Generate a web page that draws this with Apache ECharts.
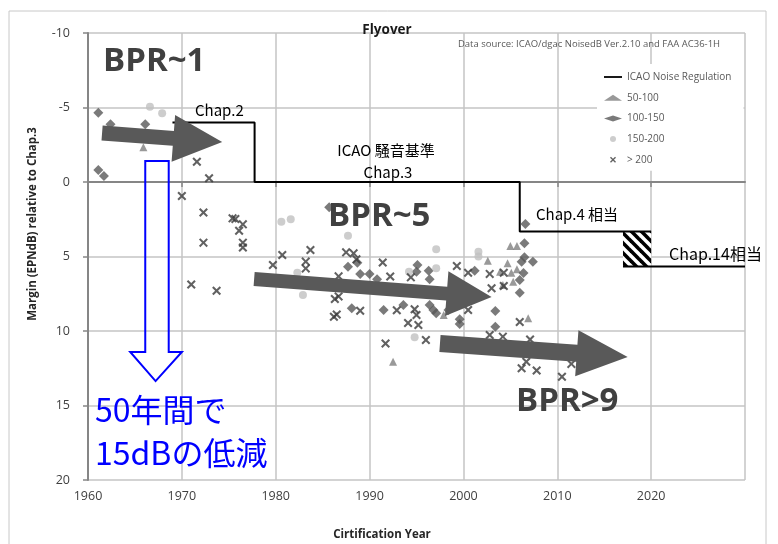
<!DOCTYPE html>
<html><head><meta charset="utf-8">
<script src="https://cdn.jsdelivr.net/npm/echarts@6/dist/echarts.min.js"></script>
<style>html,body{margin:0;padding:0;background:#fff}#c{width:778px;height:544px}</style>
</head><body><div id="c"></div>
<script>
// ---------- DATA ----------
const xTickLabels = ['1960','1970','1980','1990','2000','2010','2020'];
const yTickLabels = ['-10','-5','0','5','10','15','20'];
const legendNames = ['ICAO Noise Regulation','50-100','100-150','150-200','> 200'];

// ICAO regulation step line (Chap.2 -> Chap.3 -> Chap.4)
const regYears = [1969, 1977.75, 1977.75, 2006, 2006, 2020];
const regVals  = [-4, -4, 0, 0, 3.33, 3.33];
// Chap.14 equivalent
const chap14Years = [2017, 2030];
const chap14Vals  = [5.67, 5.67];
// transition band (hatched)
const bandYears = [2017, 2020];
const bandVals  = [3.33, 5.67];

// 50-100 (triangles)
const triYears = [1965.9, 1992.5, 1997.9, 2005.0, 2005.7, 2002.6, 2004.7, 2005.7, 2005.1, 2003.9, 2005.3, 2004.2, 2006.9];
const triVals  = [-2.33, 12.06, 8.93, 4.30, 4.30, 5.28, 5.46, 5.86, 6.09, 6.02, 6.69, 6.91, 9.15];

// 100-150 (diamonds)
const diaYears = [1961.1, 1962.4, 1966.1, 1961.1, 1961.7, 1985.7, 1987.7, 1988.7, 1989.0, 1990.0, 1990.8, 1988.1, 1991.5, 1993.6,
  1995.1, 1995.0, 1996.3, 1996.4, 1996.4, 1996.8, 1997.1, 1998.4, 1999.6, 1999.6, 2001.2, 2003.4, 2003.4,
  2006.6, 2006.5, 2006.5, 2007.4, 2006.2, 2006.4, 2006.0, 2006.0];
const diaVals  = [-4.65, -3.87, -3.87, -0.81, -0.40, 1.70, 5.68, 5.42, 6.17, 6.17, 6.53, 8.48, 8.59, 8.26,
  5.57, 6.02, 5.95, 6.53, 8.26, 8.59, 8.81, 8.59, 9.21, 9.53, 5.95, 8.66, 9.71,
  2.82, 4.11, 5.05, 5.35, 5.35, 6.11, 6.58, 7.43];

// 150-200 (circles)
const cirYears = [1966.6, 1967.9, 1980.6, 1981.6, 1982.9, 1982.3, 1987.7, 1997.1, 1997.1, 1994.2, 1994.8, 2001.6, 2001.6];
const cirVals  = [-5.05, -4.61, 2.66, 2.50, 7.58, 6.09, 3.60, 4.52, 5.79, 6.02, 10.42, 4.68, 5.00];

// > 200 (crosses)
const crsYears = [1971.6, 1972.9, 1970.0, 1972.3, 1972.3, 1975.4, 1975.7, 1976.5, 1976.1, 1976.5, 1976.5, 1971.0, 1973.7,
  1979.7, 1980.7, 1983.7, 1983.2, 1983.2, 1987.5, 1988.3, 1988.6, 1986.7, 1986.3, 1986.7, 1986.2, 1986.5, 1989.0,
  1991.4, 1992.2, 1994.4, 1992.9, 1994.8, 1995.0, 1994.1, 1995.2, 1991.7, 1996.0,
  1999.3, 2000.5, 2002.8, 2004.3, 2004.3, 2003.0, 2000.5, 2006.0, 2002.8, 2004.2, 2007.1,
  2006.7, 2006.2, 2007.8, 2010.5, 2011.5];
const crsVals  = [-1.36, -0.25, 0.94, 2.05, 4.07, 2.44, 2.48, 2.84, 3.27, 4.07, 4.40, 6.88, 7.30,
  5.57, 4.90, 4.56, 5.34, 5.80, 4.72, 4.79, 5.19, 6.33, 7.85, 7.68, 9.04, 8.89, 8.64,
  5.40, 6.34, 6.40, 8.61, 8.54, 8.93, 9.46, 9.60, 10.84, 10.60,
  5.64, 6.09, 6.17, 6.09, 6.98, 7.13, 8.59, 9.40, 10.27, 10.38, 10.57,
  12.06, 12.50, 12.65, 13.07, 12.21];

// ---------- LAYOUT / STYLE ----------
const zip = (a, b) => a.map((v, i) => [v, b[i]]);
const FONT = "'Open Sans', 'Noto Sans CJK JP', sans-serif";
const JFONT = "'Noto Sans CJK JP', 'Noto Sans', sans-serif";
const crossPath = 'path://M0,1.6 L1.6,0 L5,3.4 L8.4,0 L10,1.6 L6.6,5 L10,8.4 L8.4,10 L5,6.6 L1.6,10 L0,8.4 L3.4,5 Z';
const linePath = 'path://M0,0 L30,0 L30,3 L0,3 Z';

// hatch pattern
const pc = document.createElement('canvas');
pc.width = 10; pc.height = 10;
const g = pc.getContext('2d');
g.fillStyle = '#fff'; g.fillRect(0, 0, 10, 10);
g.strokeStyle = '#000'; g.lineWidth = 3.6;
for (const off of [-10, 0, 10]) { g.beginPath(); g.moveTo(off - 3, -3); g.lineTo(off + 13, 13); g.stroke(); }

const chart = echarts.init(document.getElementById('c'), null, { renderer: 'canvas' });
const xMin = +xTickLabels[0], yMin = +yTickLabels[0], yMax = +yTickLabels[yTickLabels.length - 1];

chart.setOption({
  animation: false,
  backgroundColor: '#fff',
  title: { text: 'Flyover', left: 382, top: 18, textAlign: 'center',
    textStyle: { fontFamily: FONT, fontSize: 13.5, fontWeight: 'bold', color: '#1a1a1a' } },
  grid: { left: 88, right: 33, top: 33, bottom: 64, containLabel: false },
  legend: {
    data: [{ name: legendNames[0], icon: linePath }].concat(legendNames.slice(1).map(n => ({ name: n }))),
    orient: 'vertical', left: 597, top: 64,
    padding: [8, 12, 6, 7], itemWidth: 18, itemHeight: 6, itemGap: 10.7,
    backgroundColor: '#fff', selectedMode: false,
    textStyle: { fontFamily: FONT, fontSize: 10, color: '#595959' }
  },
  xAxis: {
    type: 'value', min: xMin, max: 2030, interval: 10,
    axisLine: { show: true, lineStyle: { color: '#868686', width: 2 } },
    axisTick: { show: true, length: 5, lineStyle: { color: '#868686', width: 1.5 } },
    axisLabel: { showMaxLabel: false, margin: 10, fontFamily: FONT, fontSize: 12.5, color: '#404040',
      formatter: v => xTickLabels.includes(String(v)) ? String(v) : '' },
    splitLine: { show: true, lineStyle: { color: '#c4c4c4', width: 1.5 } }
  },
  yAxis: {
    type: 'value', inverse: true, min: yMin, max: yMax, interval: 5,
    axisLine: { show: true, onZero: false, lineStyle: { color: '#868686', width: 2 } },
    axisTick: { show: true, length: 5, lineStyle: { color: '#868686', width: 1.5 } },
    axisLabel: { margin: 18, fontFamily: FONT, fontSize: 12.5, color: '#404040',
      formatter: v => yTickLabels.includes(String(v)) ? String(v) : '' },
    splitLine: { show: true, lineStyle: { color: '#c4c4c4', width: 1.5 } }
  },
  series: [
    { name: 'ICAO Noise Regulation', type: 'line', data: zip(regYears, regVals), symbol: 'none',
      lineStyle: { color: '#000', width: 2 }, itemStyle: { color: '#000' }, z: 3 },
    { name: 'ICAO Noise Regulation', type: 'line', data: zip(chap14Years, chap14Vals), symbol: 'none',
      lineStyle: { color: '#000', width: 2 }, itemStyle: { color: '#000' }, z: 3,
      markArea: { silent: true, itemStyle: { color: { image: pc, repeat: 'repeat' } },
        data: [[{ coord: [bandYears[0], bandVals[0]] }, { coord: [bandYears[1], bandVals[1]] }]] } },
    { name: '50-100', type: 'scatter', data: zip(triYears, triVals), symbol: 'triangle', symbolSize: 8,
      itemStyle: { color: '#808080' }, z: 4 },
    { name: '100-150', type: 'scatter', data: zip(diaYears, diaVals), symbol: 'diamond', symbolSize: 10,
      itemStyle: { color: '#595959' }, z: 4 },
    { name: '150-200', type: 'scatter', data: zip(cirYears, cirVals), symbol: 'circle', symbolSize: 8,
      itemStyle: { color: '#c0c0c0' }, z: 4 },
    { name: '> 200', type: 'scatter', data: zip(crsYears, crsVals), symbol: crossPath, symbolSize: 9,
      itemStyle: { color: '#3a3a3a' }, z: 4 }
  ]
});

// ---------- annotations (arrows defined in data space) ----------
const toPx = p => chart.convertToPixel({ gridIndex: 0 }, p);
function arrowPoly(a, b, sw, hw, hl) {
  const p0 = toPx(a), p1 = toPx(b);
  const dx = p1[0] - p0[0], dy = p1[1] - p0[1], L = Math.hypot(dx, dy);
  const ux = dx / L, uy = dy / L, nx = -uy, ny = ux;
  const bx = p1[0] - ux * hl, by = p1[1] - uy * hl;
  return [
    [p0[0] + nx * sw / 2, p0[1] + ny * sw / 2],
    [bx + nx * sw / 2, by + ny * sw / 2],
    [bx + nx * hw / 2, by + ny * hw / 2],
    p1,
    [bx - nx * hw / 2, by - ny * hw / 2],
    [bx - nx * sw / 2, by - ny * sw / 2],
    [p0[0] - nx * sw / 2, p0[1] - ny * sw / 2]
  ];
}
const trendArrows = [
  { from: [1961.5, -3.29], to: [1974.3, -2.68], sw: 15, hw: 47, hl: 49 },
  { from: [1977.7, 6.51], to: [2003.0, 7.72], sw: 14, hw: 45, hl: 45 },
  { from: [1997.5, 10.84], to: [2017.5, 11.74], sw: 17, hw: 46, hl: 51 }
];
// blue hollow downward arrow (data space)
const blueArrow = [[1966.1, -1.41], [1968.6, -1.41], [1968.6, 11.41], [1970.0, 11.41], [1967.2, 13.36],
                   [1964.5, 11.41], [1966.1, 11.41]];

const txt = (x, y, text, o) => Object.assign({ type: 'text', x, y, z: 110,
  style: Object.assign({ text, fontFamily: JFONT, fontSize: 15, fill: '#000', textVerticalAlign: 'middle' }, o || {}) });

const graphics = [
  { type: 'rect', shape: { x: 9, y: 11, width: 757, height: 560 }, z: -10, silent: true,
    style: { fill: 'none', stroke: '#c8c8c8', lineWidth: 1 } },
  ...trendArrows.map(a => ({ type: 'polygon', z: 100, silent: true,
    shape: { points: arrowPoly(a.from, a.to, a.sw, a.hw, a.hl) }, style: { fill: '#595959' } })),
  { type: 'polygon', z: 100, silent: true, shape: { points: blueArrow.map(toPx) },
    style: { fill: 'none', stroke: '#0000ff', lineWidth: 2 } },
  txt(589, 44, 'Data source: ICAO/dgac NoisedB Ver.2.10 and FAA AC36-1H',
    { fontFamily: FONT, fontSize: 9.5, fill: '#595959', textAlign: 'center' }),
  txt(103, 62, 'BPR~1', { fontFamily: FONT, fontSize: 33, fontWeight: 'bold', fill: '#404040' }),
  txt(328, 217, 'BPR~5', { fontFamily: FONT, fontSize: 33, fontWeight: 'bold', fill: '#404040' }),
  txt(516, 402, 'BPR>9', { fontFamily: FONT, fontSize: 33, fontWeight: 'bold', fill: '#404040' }),
  txt(195, 110, 'Chap.2'),
  txt(386, 150, 'ICAO 騒音基準', { textAlign: 'center' }),
  txt(388, 172, 'Chap.3', { textAlign: 'center' }),
  txt(536, 214, 'Chap.4 相当'),
  txt(669, 254, 'Chap.14相当', { fontSize: 16 }),
  txt(95, 410, '50年間で', { fontSize: 32, fill: '#0000ff' }),
  txt(95, 453, '15dBの低減', { fontSize: 32, fill: '#0000ff' }),
  { type: 'text', x: 33, y: 224, rotation: Math.PI / 2, z: 110,
    style: { text: 'Margin (EPNdB) relative to Chap.3', fontFamily: FONT, fontSize: 11.5, fontWeight: 'bold',
      fill: '#262626', textAlign: 'center', textVerticalAlign: 'middle' } },
  txt(382, 535, 'Cirtification Year', { fontFamily: FONT, fontSize: 11.5, fontWeight: 'bold', fill: '#262626', textAlign: 'center' })
];
chart.setOption({ graphic: graphics });
</script></body></html>
